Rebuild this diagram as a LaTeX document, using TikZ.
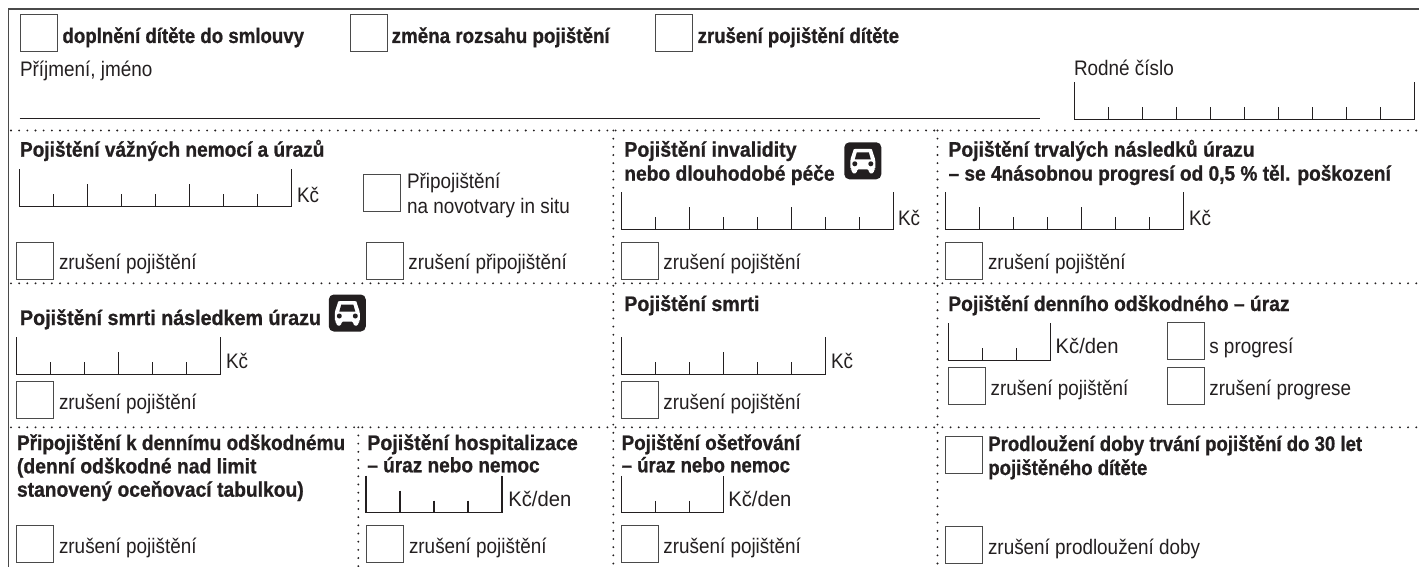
\documentclass[tikz,border=0pt]{standalone}
\usepackage{fontspec}
\setmainfont[FakeStretch=0.90]{Liberation Sans}
\newfontfamily\boldf[FakeStretch=0.885,FakeBold=0.8]{Liberation Sans Bold}
\definecolor{ink}{HTML}{231F20}
\definecolor{frame}{HTML}{4A4A4A}
\tikzset{
  x=1pt,y=-1pt,
  chkbox/.style={draw=frame,line width=1pt,fill=white,minimum size=37pt,inner sep=0pt,outer sep=0pt,anchor=north west},
  regtext/.style={anchor=base west,inner sep=0pt,outer sep=0pt,text=ink,font=\fontsize{21}{24}\selectfont},
  headtext/.style={anchor=base west,inner sep=0pt,outer sep=0pt,text=ink,font=\fontsize{21}{24}\selectfont\boldf},
  hfit/.style={xscale=#1,transform shape},
  combline/.style={draw=ink,line width=1pt},
  dotline/.style={draw=ink,line width=2.1pt,line cap=round,dash pattern=on 0pt off 8.17pt},
  frameline/.style={draw=frame,line width=1.4pt}
}
% \combx{x left}{y bottom}{cells}{major every (cells from right)}{line width}
\newcommand{\combx}[5]{%
  \pgfmathsetmacro{\cR}{#1+34*#3}
  \draw[combline,line width=#5] (#1,#2-37) -- (#1,#2) -- (\cR,#2) -- (\cR,#2-37);
  \foreach \ci in {1,...,\numexpr#3-1\relax}{
    \pgfmathsetmacro{\cX}{#1+34*\ci}
    \pgfmathtruncatemacro{\cM}{mod(#3-\ci,#4)==0 ? 22 : 12}
    \draw[combline,line width=#5] (\cX,#2-\cM) -- (\cX,#2);
  }%
}
% \caricon{name}{x left}{y top}
\newcommand{\caricon}[3]{%
  \begin{scope}[shift={(#2,#3)}]
    \fill[ink,rounded corners=5pt] (0,0) rectangle (37,37);
    \fill[white,rounded corners=1.5pt] (6,17.5) -- (9,8.5) .. controls (9.5,6.5) and (11,6.5) .. (13,6.5) -- (24,6.5) .. controls (26,6.5) and (27.5,6.5) .. (28,8.5) -- (31,17.5) -- (31,27) -- (29.5,27) -- (29.5,31) -- (24.5,31) -- (24.5,27) -- (12.5,27) -- (12.5,31) -- (7.5,31) -- (7.5,27) -- (6,27) -- cycle;
    \fill[ink] (10.5,17) -- (12.5,10) -- (24.5,10) -- (26.5,17) -- cycle;
    \fill[ink] (10.5,21.5) circle (2.5pt) (26.5,21.5) circle (2.5pt);
  \end{scope}%
}
\begin{document}
\begin{tikzpicture}
\useasboundingbox (0,0) rectangle (1419,567);
\fill[white] (0,0) rectangle (1419,567);
% frame
\draw[frameline] (8.5,567) -- (8.5,9) -- (1419,9);
% dotted rules
\draw[dotline] (11,130.5) -- (1419,130.5);
\draw[dotline] (11,283.3) -- (1419,283.3);
\draw[dotline] (11,427.3) -- (1419,427.3);
\draw[dotline] (613.3,130.5) -- (613.3,567);
\draw[dotline] (937.5,130.5) -- (937.5,567);
\draw[dotline] (358.3,427.3) -- (358.3,567);
% name line
\draw[combline] (19.5,119) -- (1040,119);
% check boxes
\node[chkbox] (c1) at (20,15) {};
\node[chkbox] (c2) at (350,15) {};
\node[chkbox] (c3) at (655.3,15) {};
\node[chkbox] (c4) at (363.7,174.3) {};
\node[chkbox] (c5) at (16.7,242.3) {};
\node[chkbox] (c6) at (366,242.3) {};
\node[chkbox] (c7) at (621,242.3) {};
\node[chkbox] (c8) at (945.5,242.3) {};
\node[chkbox] (c9) at (16.7,381) {};
\node[chkbox] (c10) at (621,381) {};
\node[chkbox] (c11) at (948.5,367.5) {};
\node[chkbox] (c12) at (1167.5,322.3) {};
\node[chkbox] (c13) at (1167.5,367.5) {};
\node[chkbox] (c14) at (16.7,525.8) {};
\node[chkbox] (c15) at (366,525.8) {};
\node[chkbox] (c16) at (621,525.8) {};
\node[chkbox] (c17) at (945.5,436.8) {};
\node[chkbox] (c18) at (945.5,526) {};
% combs
\combx{1074.5}{119.5}{10}{100}{1pt}
\combx{19.5}{206.3}{8}{3}{1pt}
\combx{621.5}{229.3}{8}{3}{1pt}
\combx{945.5}{229.3}{7}{3}{1pt}
\combx{16.5}{374.3}{6}{3}{1pt}
\combx{621.5}{374.3}{6}{3}{1pt}
\combx{948.3}{360.3}{3}{3}{1pt}
\combx{366}{512.5}{4}{3}{1.4pt}
\combx{621.3}{512.8}{3}{3}{1pt}
% icons
\caricon{car1}{844.3}{142.3}
\caricon{car2}{328.8}{294.5}
% top
\node[headtext,hfit=1.004] (t1) at (62.5,43) {doplnění dítěte do smlouvy};
\node[headtext,hfit=1.01] (t2) at (391.7,43) {změna rozsahu pojištění};
\node[headtext] (t3) at (697.7,43) {zrušení pojištění dítěte};
\node[regtext] (t4) at (20,76.5) {Příjmení, jméno};
\node[regtext] (t5) at (1074,76) {Rodné číslo};
% row 1
\node[headtext,hfit=1.027] (h1) at (20,156.7) {Pojištění vážných nemocí a úrazů};
\node[regtext] (k1) at (297,202) {Kč};
\node[regtext] (r1) at (407,189) {Připojištění};
\node[regtext] (r2) at (407,213) {na novotvary in situ};
\node[regtext] (z1) at (59,269.7) {zrušení pojištění};
\node[regtext] (z2) at (408.3,269.7) {zrušení připojištění};
\node[headtext,hfit=1.056] (h2) at (624.3,156.7) {Pojištění invalidity};
\node[headtext,hfit=1.034] (h3) at (624.3,180.7) {nebo dlouhodobé péče};
\node[regtext] (k2) at (898,225.5) {Kč};
\node[regtext] (z3) at (663.3,269.7) {zrušení pojištění};
\node[headtext,hfit=1.04] (h4) at (948.5,156.7) {Pojištění trvalých následků úrazu};
\node[headtext,hfit=1.028] (h5) at (948.5,180.7) {– se 4násobnou progresí od 0,5 \% těl. poškození};
\node[regtext] (k3) at (1189,225.5) {Kč};
\node[regtext] (z4) at (988,269.7) {zrušení pojištění};
% row 2
\node[headtext,hfit=1.06] (h6) at (20,325) {Pojištění smrti následkem úrazu};
\node[regtext] (k4) at (226,368.5) {Kč};
\node[regtext] (z5) at (59,409.3) {zrušení pojištění};
\node[headtext,hfit=1.055] (h7) at (624.3,311) {Pojištění smrti};
\node[regtext] (k5) at (831,368.5) {Kč};
\node[regtext] (z6) at (663.3,409.3) {zrušení pojištění};
\node[headtext,hfit=1.036] (h8) at (948.3,311) {Pojištění denního odškodného – úraz};
\node[regtext,hfit=1.07] (k6) at (1055.7,353.3) {Kč/den};
\node[regtext] (r3) at (1209.3,353.3) {s progresí};
\node[regtext] (z7) at (990.7,395) {zrušení pojištění};
\node[regtext] (z8) at (1209.3,395) {zrušení progrese};
% row 3
\node[headtext,hfit=1.025] (h9) at (17,450) {Připojištění k dennímu odškodnému};
\node[headtext,hfit=1.04] (h10) at (17,473.3) {(denní odškodné nad limit};
\node[headtext,hfit=1.036] (h11) at (17,496.7) {stanovený oceňovací tabulkou)};
\node[regtext] (z9) at (59,553.3) {zrušení pojištění};
\node[headtext,hfit=1.056] (h12) at (367.3,450) {Pojištění hospitalizace};
\node[headtext,hfit=1.024] (h13) at (367.3,472.3) {– úraz nebo nemoc};
\node[regtext,hfit=1.07] (k7) at (508.3,506) {Kč/den};
\node[regtext] (z10) at (409,553.3) {zrušení pojištění};
\node[headtext,hfit=1.011] (h14) at (621.7,450) {Pojištění ošetřování};
\node[headtext] (h15) at (621.7,472.3) {– úraz nebo nemoc};
\node[regtext,hfit=1.07] (k8) at (728.3,506) {Kč/den};
\node[regtext] (z11) at (663.3,553.3) {zrušení pojištění};
\node[headtext] (h16) at (988.3,451) {Prodloužení doby trvání pojištění do 30 let};
\node[headtext] (h17) at (988.3,475) {pojištěného dítěte};
\node[regtext] (z12) at (988,554) {zrušení prodloužení doby};
\end{tikzpicture}
\end{document}
